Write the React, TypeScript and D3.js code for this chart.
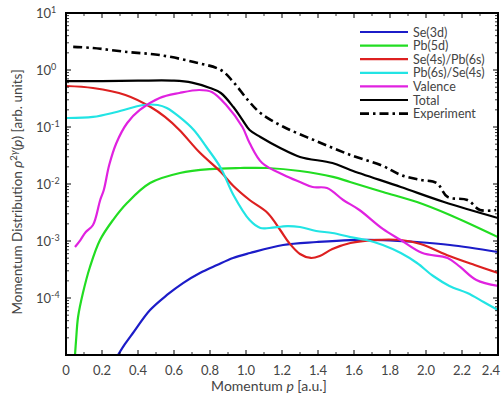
import React from "react";
import * as d3 from "d3";

// ---- data ----
const xTicks = [0, 0.2, 0.4, 0.6, 0.8, 1.0, 1.2, 1.4, 1.6, 1.8, 2.0, 2.2, 2.4];
const xTickLabels = ["0", "0.2", "0.4", "0.6", "0.8", "1.0", "1.2", "1.4", "1.6", "1.8", "2.0", "2.2", "2.4"];
const yDecades = [1, 0, -1, -2, -3, -4];

const se3dP = [0.289, 0.328, 0.372, 0.467, 0.561, 0.65, 0.744, 0.839, 0.928, 1.022, 1.206, 1.394, 1.578, 1.761, 1.95, 2.133, 2.4];
const se3dV = [0.00001, 0.0000156, 0.0000243, 0.0000615, 0.000113, 0.000183, 0.000275, 0.000379, 0.000504, 0.000615, 0.000851, 0.00096, 0.00104, 0.00104, 0.00096, 0.000851, 0.000641];

const pb5dP = [0.05, 0.056, 0.067, 0.094, 0.133, 0.189, 0.261, 0.339, 0.467, 0.633, 0.8, 0.967, 1.117, 1.3, 1.483, 1.578, 1.761, 1.95, 2.133, 2.4];
const pb5dV = [0.00001, 0.0000183, 0.0000464, 0.000122, 0.00035, 0.00104, 0.00233, 0.00464, 0.0104, 0.0156, 0.0183, 0.0191, 0.0191, 0.0169, 0.0133, 0.01084, 0.00724, 0.00483, 0.00286, 0.00117];

const se4sP = [0, 0.15, 0.33, 0.47, 0.55, 0.63, 0.74, 0.86, 0.93, 1.02, 1.12, 1.19, 1.24, 1.3, 1.36, 1.41, 1.48, 1.58, 1.71, 1.86, 1.97, 2.13, 2.27, 2.4];
const se4sV = [0.524, 0.483, 0.364, 0.224, 0.15, 0.0886, 0.0364, 0.01625, 0.00923, 0.00524, 0.0031, 0.00156, 0.000923, 0.000592, 0.000504, 0.000546, 0.000725, 0.000923, 0.00104, 0.00104, 0.000886, 0.000546, 0.000379, 0.000275];

const pb6sP = [0, 0.15, 0.28, 0.43, 0.51, 0.56, 0.63, 0.71, 0.78, 0.86, 0.93, 1.02, 1.08, 1.13, 1.23, 1.3, 1.39, 1.48, 1.58, 1.67, 1.76, 1.86, 1.95, 2.04, 2.13, 2.23, 2.32, 2.4];
const pb6sV = [0.144, 0.15, 0.183, 0.243, 0.243, 0.215, 0.15, 0.0886, 0.0446, 0.0191, 0.00641, 0.00233, 0.00169, 0.00169, 0.00183, 0.00176, 0.0015, 0.00138, 0.00117, 0.00104, 0.000851, 0.000615, 0.000411, 0.000243, 0.000163, 0.000122, 0.0000851, 0.0000615];

const valP = [0.05, 0.08, 0.11, 0.15, 0.19, 0.21, 0.24, 0.28, 0.34, 0.41, 0.52, 0.63, 0.74, 0.81, 0.89, 0.98, 1.02, 1.09, 1.21, 1.3, 1.37, 1.45, 1.54, 1.63, 1.76, 1.86, 1.98, 2.12, 2.19, 2.28, 2.4];
const valV = [0.000785, 0.00104, 0.00144, 0.00191, 0.00524, 0.00785, 0.0215, 0.0524, 0.1175, 0.199, 0.323, 0.395, 0.446, 0.411, 0.243, 0.1, 0.0524, 0.0233, 0.0144, 0.01084, 0.00885, 0.00851, 0.00524, 0.0035, 0.00163, 0.00104, 0.000615, 0.000504, 0.00035, 0.000207, 0.000163];

const totP = [0, 0.2, 0.4, 0.6, 0.7, 0.8, 0.86, 0.93, 0.98, 1.02, 1.08, 1.19, 1.3, 1.48, 1.58, 1.86, 2.1, 2.4];
const totV = [0.64, 0.64, 0.65, 0.65, 0.6, 0.483, 0.395, 0.224, 0.133, 0.0886, 0.0668, 0.0428, 0.0298, 0.0233, 0.0176, 0.00885, 0.00483, 0.00253];

const expP = [0.04, 0.15, 0.34, 0.52, 0.71, 0.86, 0.93, 1.01, 1.08, 1.21, 1.39, 1.58, 1.76, 1.86, 1.97, 2.06, 2.12, 2.23, 2.3, 2.39];
const expV = [2.54, 2.43, 2.07, 1.83, 1.38, 1.0, 0.615, 0.298, 0.176, 0.1, 0.0568, 0.0323, 0.0207, 0.0144, 0.0118, 0.0104, 0.00592, 0.00524, 0.0035, 0.0035];

const seriesNames = ["Se(3d)", "Pb(5d)", "Se(4s)/Pb(6s)", "Pb(6s)/Se(4s)", "Valence", "Total", "Experiment"];
const seriesColors = ["#1c1cc8", "#22dd22", "#dd2020", "#22e4e4", "#e022e0", "#000000", "#000000"];

const series = [
  { name: seriesNames[0], p: se3dP, v: se3dV, color: seriesColors[0], dash: null },
  { name: seriesNames[1], p: pb5dP, v: pb5dV, color: seriesColors[1], dash: null },
  { name: seriesNames[2], p: se4sP, v: se4sV, color: seriesColors[2], dash: null },
  { name: seriesNames[3], p: pb6sP, v: pb6sV, color: seriesColors[3], dash: null },
  { name: seriesNames[4], p: valP, v: valV, color: seriesColors[4], dash: null },
  { name: seriesNames[5], p: totP, v: totV, color: seriesColors[5], dash: null },
  { name: seriesNames[6], p: expP, v: expV, color: seriesColors[6], dash: "9,4,2.5,4" },
];

const W = 501, H = 399;
const M = { left: 66, right: 498, top: 13, bottom: 355 };
const FONT = "Lato, 'Open Sans', sans-serif";
const TXT = "#444";

export default function App() {
  const x = d3.scaleLinear().domain([0, 2.4]).range([M.left, M.right]);
  const y = d3.scaleLog().domain([1e-5, 10]).range([M.bottom, M.top]);

  const line = d3
    .line<[number, number]>()
    .x((d) => x(d[0]))
    .y((d) => y(d[1]))
    .curve(d3.curveCatmullRom.alpha(0.5));

  const minorY: number[] = [];
  for (let e = -5; e < 1; e++) {
    for (let k = 2; k <= 9; k++) minorY.push(k * Math.pow(10, e));
  }
  const minorX = d3.range(0.1, 2.4, 0.2);

  const legX0 = 360, legX1 = 408, legY0 = 32, legStep = 13.6;

  return (
    <svg width={W} height={H} style={{ position: "absolute", left: 0, top: 0, background: "#fff" }}>
      <defs>
        <clipPath id="plot">
          <rect x={M.left} y={M.top} width={M.right - M.left} height={M.bottom - M.top} />
        </clipPath>
      </defs>
      <rect x={0} y={0} width={W} height={H} fill="#fff" />

      <g clipPath="url(#plot)">
        {series.map((s) => (
          <path
            key={s.name}
            d={line(s.p.map((p, i) => [p, s.v[i]] as [number, number])) || ""}
            fill="none"
            stroke={s.color}
            strokeWidth={s.dash ? 2.6 : 2.2}
            strokeDasharray={s.dash || undefined}
            strokeLinejoin="round"
          />
        ))}
      </g>

      {/* ticks */}
      {xTicks.map((t) => (
        <g key={"xt" + t}>
          <line x1={x(t)} x2={x(t)} y1={M.bottom} y2={M.bottom - 5} stroke="#000" strokeWidth={1} />
          <line x1={x(t)} x2={x(t)} y1={M.top} y2={M.top + 5} stroke="#000" strokeWidth={1} />
        </g>
      ))}
      {minorX.map((t) => (
        <g key={"xm" + t}>
          <line x1={x(t)} x2={x(t)} y1={M.bottom} y2={M.bottom - 3} stroke="#000" strokeWidth={0.8} />
          <line x1={x(t)} x2={x(t)} y1={M.top} y2={M.top + 3} stroke="#000" strokeWidth={0.8} />
        </g>
      ))}
      {yDecades.map((e) => (
        <g key={"yt" + e}>
          <line x1={M.left} x2={M.left + 5} y1={y(Math.pow(10, e))} y2={y(Math.pow(10, e))} stroke="#000" />
          <line x1={M.right} x2={M.right - 5} y1={y(Math.pow(10, e))} y2={y(Math.pow(10, e))} stroke="#000" />
        </g>
      ))}
      {minorY.map((v, i) => (
        <g key={"ym" + i}>
          <line x1={M.left} x2={M.left + 3} y1={y(v)} y2={y(v)} stroke="#000" strokeWidth={0.8} />
          <line x1={M.right} x2={M.right - 3} y1={y(v)} y2={y(v)} stroke="#000" strokeWidth={0.8} />
        </g>
      ))}

      {/* frame */}
      <rect x={M.left} y={M.top} width={M.right - M.left} height={M.bottom - M.top} fill="none" stroke="#000" strokeWidth={2} />

      {/* x tick labels */}
      {xTicks.map((t, i) => {
        const last = i === xTicks.length - 1;
        return (
          <text
            key={"xl" + t}
            x={last ? 500 : x(t)}
            y={375}
            textAnchor={last ? "end" : "middle"}
            fontFamily={FONT}
            fontSize={13}
            fill={TXT}
          >
            {xTickLabels[i]}
          </text>
        );
      })}
      {/* y tick labels */}
      {yDecades.map((e) => (
        <text key={"yl" + e} x={36} y={y(Math.pow(10, e)) + 5} fontFamily={FONT} fontSize={13} fill={TXT}>
          10
          <tspan dy={-5} fontSize={9}>{String(e)}</tspan>
        </text>
      ))}

      {/* axis titles */}
      <text x={269} y={391} textAnchor="middle" fontFamily={FONT} fontSize={14} fill={TXT}>
        Momentum <tspan fontStyle="italic">p</tspan> [a.u.]
      </text>
      <text
        transform={`translate(22, ${192}) rotate(-90)`}
        textAnchor="middle"
        fontFamily={FONT}
        fontSize={13.5}
        fill={TXT}
      >
        Momentum Distribution <tspan fontStyle="italic">ρ</tspan>
        <tspan dy={-5} fontSize={9.5}>2</tspan>
        <tspan fontSize={9.5} fontStyle="italic">γ</tspan>
        <tspan dy={5}>(</tspan>
        <tspan fontStyle="italic">p</tspan>) [arb. units]
      </text>

      {/* legend */}
      {series.map((s, i) => (
        <g key={"lg" + s.name}>
          <line
            x1={legX0}
            x2={legX1}
            y1={legY0 + i * legStep}
            y2={legY0 + i * legStep}
            stroke={s.color}
            strokeWidth={s.dash ? 2.6 : 2.2}
            strokeDasharray={s.dash || undefined}
          />
          <text x={413} y={legY0 + i * legStep + 4.5} fontFamily={FONT} fontSize={12.5} fill={TXT}>
            {s.name}
          </text>
        </g>
      ))}
    </svg>
  );
}
